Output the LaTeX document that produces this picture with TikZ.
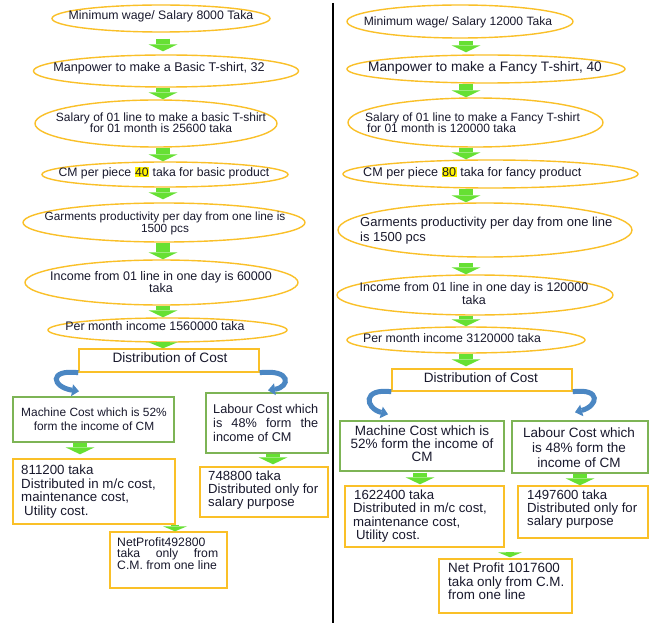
\documentclass[tikz,border=0pt]{standalone}
\usepackage{fontspec}
\setmainfont{Liberation Sans}
\usetikzlibrary{shapes.geometric,arrows.meta}
\definecolor{ellc}{RGB}{250,192,40}
\definecolor{gboxc}{RGB}{125,180,85}
\definecolor{agreen}{RGB}{102,224,51}
\definecolor{ablue}{RGB}{75,135,195}
\definecolor{txtc}{RGB}{25,25,45}
\newcommand\fsz[2]{\fontsize{#1}{#2}\selectfont}
\newcommand\hlbox[1]{{\setlength{\fboxsep}{0.6pt}\colorbox{yellow}{#1}}}
\newcommand\jl[2]{\makebox[#1][s]{#2}}
\begin{document}
\begin{tikzpicture}[x=1pt,y=-1pt,
 ell/.style={ellipse, draw=ellc, line width=1.4pt, inner sep=0pt},
 gbox/.style={rectangle, draw=gboxc, line width=1.4pt, inner sep=0pt},
 ybox/.style={rectangle, draw=ellc, line width=1.4pt, inner sep=0pt},
 txt/.style={inner sep=0pt, text=txtc, align=center},
 ltxt/.style={inner sep=0pt, text=txtc, align=left, anchor=west},
 garrow/.style={draw=agreen, line width=14pt, -{Triangle[width=29pt,length=#1,line width=0pt]}},
 garrow/.default=7pt,
 sgarrow/.style={draw=agreen, line width=8pt, -{Triangle[width=24pt,length=5pt,line width=0pt]}},
 carrow/.style={draw=ablue, line width=5pt, -{Triangle[width=12pt,length=7pt,line width=0pt]}}
]
\fill[white] (0,0) rectangle (654,623);
\useasboundingbox (0,0) rectangle (654,623);

% divider
\draw[line width=1.8pt, black] (333,3) -- (333,623);

% ---------- left column ----------
\node[ell, minimum width=218, minimum height=27] (l1) at (161,18.5) {};
\node[ell, minimum width=265, minimum height=32] (l2) at (166,71) {};
\node[ell, minimum width=242, minimum height=47] (l3) at (156,123.5) {};
\node[ell, minimum width=246, minimum height=25] (l4) at (165,174.5) {};
\node[ell, minimum width=282, minimum height=39] (l5) at (164,222.5) {};
\node[ell, minimum width=273, minimum height=45] (l6) at (161.5,282.5) {};
\node[ell, minimum width=239, minimum height=24] (l7) at (167.5,330) {};
\node[ybox, minimum width=180, minimum height=23] (ldist) at (169,360.5) {};
\node[gbox, minimum width=161, minimum height=45] (lmc) at (93.5,419.5) {};
\node[gbox, minimum width=122, minimum height=60] (llab) at (267,423) {};
\node[ybox, minimum width=162, minimum height=65] (lmv) at (94,491.5) {};
\node[ybox, minimum width=128, minimum height=50] (llv) at (264,492) {};
\node[ybox, minimum width=117, minimum height=56] (lnp) at (168.5,560) {};

\node[txt, font=\fsz{12.3}{14}] (l1t) at (161,16) {Minimum wage/ Salary 8000 Taka};
\node[txt, font=\fsz{12.6}{14}] (l2t) at (159,68) {Manpower to make a Basic T-shirt, 32};
\node[txt, font=\fsz{12}{11.5}] (l3t) at (161,122.5) {Salary of 01 line to make a basic T-shirt\\for 01 month is 25600 taka};
\node[txt, font=\fsz{12.2}{14}] (l4t) at (164,173) {CM per piece \hlbox{40} taka for basic product};
\node[txt, font=\fsz{11.8}{12}] (l5t) at (165,223) {Garments productivity per day from one line is\\1500 pcs};
\node[txt, font=\fsz{12.5}{12}] (l6t) at (161,282) {Income from 01 line in one day is 60000\\taka};
\node[txt, font=\fsz{12.4}{14}] (l7t) at (155,326) {Per month income 1560000 taka};
\node[txt, font=\fsz{13.6}{14}] (ldistt) at (170,358) {Distribution of Cost};
\node[txt, font=\fsz{11.9}{14}] (lmct) at (94,419) {Machine Cost which is 52\%\\form the income of CM};
\node[ltxt, font=\fsz{12.7}{14}] (llabt) at (213,423) {\jl{105pt}{Labour Cost which}\\\jl{105pt}{is 48\% form the}\\income of CM};
\node[ltxt, font=\fsz{13.3}{13.7}] (lmvt) at (21,491.5) {811200 taka\\Distributed in m/c cost,\\maintenance cost,\\\hspace{3pt}Utility cost.};
\node[ltxt, font=\fsz{13.2}{13}] (llvt) at (208,490) {748800 taka\\Distributed only for\\salary purpose};
\node[ltxt, font=\fsz{12.2}{11.5}] (lnpt) at (117,553.5) {NetProfit492800\\\jl{101pt}{taka only from}\\C.M. from one line};

\coordinate (xl) at (163,0);
\coordinate (xlmc) at (80,0);
\coordinate (xllab) at (273,0);
\coordinate (xlnp) at (175,0);
\draw[garrow, shorten <=6pt, shorten >=3pt] (l1.south -| xl) -- (l2.north -| xl);
\draw[garrow] (l2.south -| xl) -- (l3.north -| xl);
\draw[garrow] (l3.south -| xl) -- (l4.north -| xl);
\draw[garrow, shorten >=3pt] (l4.south -| xl) -- (l5.north -| xl);
\draw[garrow] (l5.south -| xl) -- (l6.north -| xl);
\draw[garrow] (l6.south -| xl) -- (l7.north -| xl);
\draw[garrow=6pt, shorten <=-2pt] (l7.south -| xl) -- (ldist.north -| xl);
\draw[garrow, shorten >=4pt] (lmc.south -| xlmc) -- (lmv.north -| xlmc);
\draw[garrow, shorten >=2pt] (llab.south -| xllab) -- (llv.north -| xllab);
\draw[sgarrow] (lmv.south -| xlnp) -- (lnp.north -| xlnp);

\draw[carrow] (ldist.south west) .. controls (48,369) and (52,387) .. ([xshift=-14.5pt,yshift=5pt]lmc.north);
\draw[carrow] (ldist.south east) .. controls (292,369) and (290,387) .. ([xshift=1pt,yshift=2pt]llab.north);

% ---------- right column ----------
\node[ell, minimum width=226, minimum height=33] (r1) at (460,21.5) {};
\node[ell, minimum width=278, minimum height=28] (r2) at (486,69) {};
\node[ell, minimum width=255, minimum height=49] (r3) at (475.5,122.5) {};
\node[ell, minimum width=295, minimum height=28] (r4) at (490.5,174) {};
\node[ell, minimum width=294, minimum height=54] (r5) at (485,230) {};
\node[ell, minimum width=276, minimum height=40] (r6) at (475,295) {};
\node[ell, minimum width=238, minimum height=26] (r7) at (466,340) {};
\node[ybox, minimum width=180, minimum height=22] (rdist) at (482,380) {};
\node[gbox, minimum width=164, minimum height=50] (rmc) at (422,446) {};
\node[gbox, minimum width=136, minimum height=52] (rlab) at (580,447) {};
\node[ybox, minimum width=159, minimum height=61] (rmv) at (424.5,516.5) {};
\node[ybox, minimum width=130, minimum height=52] (rlv) at (583,512) {};
\node[ybox, minimum width=133, minimum height=54] (rnp) at (505.5,586) {};

\node[txt, font=\fsz{12.1}{14}] (r1t) at (458,22) {Minimum wage/ Salary 12000 Taka};
\node[txt, font=\fsz{13.7}{14}] (r2t) at (485,68) {Manpower to make a Fancy T-shirt, 40};
\node[ltxt, font=\fsz{12}{11.5}] (r3t) at (365,122.5) {Salary of 01 line to make a Fancy T-shirt\\\hspace{2pt}for 01 month is 120000 taka};
\node[ltxt, font=\fsz{12.6}{14}] (r4t) at (363,173) {CM per piece \hlbox{80} taka for fancy product};
\node[ltxt, font=\fsz{13}{15}] (r5t) at (360,230.5) {Garments productivity per day from one line\\is 1500 pcs};
\node[txt, font=\fsz{12.5}{11.5}] (r6t) at (474,293.5) {Income from 01 line in one day is 120000\\taka};
\node[ltxt, font=\fsz{12.3}{14}] (r7t) at (363,338) {Per month income 3120000 taka};
\node[txt, font=\fsz{13.5}{14}] (rdistt) at (481,378) {Distribution of Cost};
\node[txt, font=\fsz{13.5}{13}] (rmct) at (422,444) {Machine Cost which is\\52\% form the income of\\CM};
\node[txt, font=\fsz{13.5}{15}] (rlabt) at (579,448) {Labour Cost which\\is 48\% form the\\income of CM};
\node[ltxt, font=\fsz{13.2}{13.3}] (rmvt) at (353,516) {\hspace{1pt}1622400 taka\\Distributed in m/c cost,\\maintenance cost,\\\hspace{3pt}Utility cost.};
\node[ltxt, font=\fsz{13.2}{13}] (rlvt) at (527,509) {1497600 taka\\Distributed only for\\salary purpose};
\node[ltxt, font=\fsz{13.4}{13.5}] (rnpt) at (448,581.5) {Net Profit 1017600\\taka only from C.M.\\from one line};

\coordinate (xr) at (466,0);
\coordinate (xrmc) at (420,0);
\coordinate (xrlab) at (580,0);
\coordinate (xrnp) at (510,0);
\draw[garrow, shorten <=2pt, shorten >=2pt] (r1.south -| xr) -- (r2.north -| xr);
\draw[garrow] (r2.south -| xr) -- (r3.north -| xr);
\draw[garrow] (r3.south -| xr) -- (r4.north -| xr);
\draw[garrow] (r4.south -| xr) -- (r5.north -| xr);
\draw[garrow, shorten <=5pt] (r5.south -| xr) -- (r6.north -| xr);
\draw[garrow] (r6.south -| xr) -- (r7.north -| xr);
\draw[garrow, shorten >=2pt] (r7.south -| xr) -- (rdist.north -| xr);
\draw[garrow, shorten <=1pt, shorten >=1pt] (rmc.south -| xrmc) -- (rmv.north -| xrmc);
\draw[garrow] (rlab.south -| xrlab) -- (rlv.north -| xrlab);
\draw[sgarrow, shorten <=5pt, shorten >=1pt] (rmv.south -| xrnp) -- (rnp.north -| xrnp);

\draw[carrow] (rdist.south west) .. controls (362,388) and (365,408) .. ([xshift=-34pt,yshift=6pt]rmc.north);
\draw[carrow] (rdist.south east) .. controls (602,388) and (598,406) .. ([xshift=-5pt,yshift=8pt]rlab.north);
\end{tikzpicture}
\end{document}
